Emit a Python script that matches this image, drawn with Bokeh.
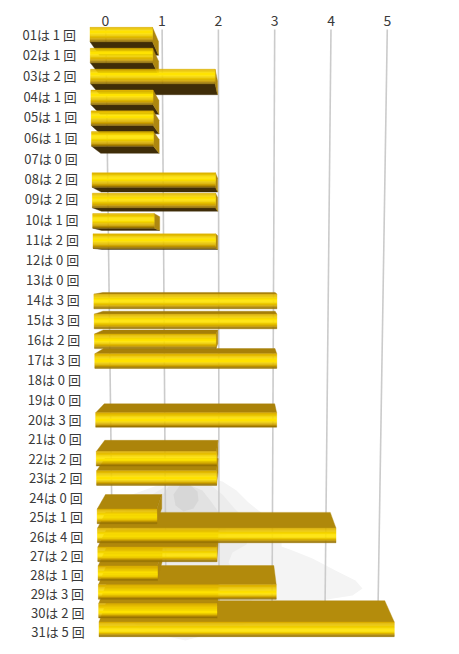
from bokeh.plotting import figure
from bokeh.models import ColumnDataSource, Range1d, FixedTicker, LinearAxis
from bokeh.core.properties import value
from bokeh.embed import file_html
from bokeh.resources import INLINE

# ---------- data ----------
days = ["01","02","03","04","05","06","07","08","09","10","11","12","13","14","15","16",
        "17","18","19","20","21","22","23","24","25","26","27","28","29","30","31"]
counts = [1,1,2,1,1,1,0,2,2,1,2,0,0,3,3,2,3,0,0,3,0,2,2,0,1,4,2,1,3,2,5]
ticks = [0,1,2,3,4,5]
FONT = "Noto Sans CJK JP"

# ---------- page geometry ----------
FRAME_LEFT, FRAME_TOP, FRAME_H, FRAME_W = 0, 26, 622, 455
PX_ZERO, PX_UNIT = 105.0, 56.4       # top axis scale, page pixels

def xval(px):                        # page pixel -> axis value
    return (px - PX_ZERO) / PX_UNIT

def row_y(r):                        # centre of a bar's front face
    n = r - 1
    return 34 + 21.08 * n - 0.0417 * n * n

def label_y(r):
    n = r - 1
    return 33.5 + 20.86 * n - 0.031 * n * n

def label_right(r):
    return 75.5 + 0.29 * (r - 1)

def front_x(v, r):
    return xval(89.5 + 0.3 * (r - 1) + (62.5 - 0.115 * (r - 1)) * v)

def back_x(v, r):
    return xval(99 + 0.25 * (r - 1) + (59 - 0.115 * (r - 1)) * v)

def back_y(y):
    return 265 + (y - 265) * 0.94

def grid_x(v, y):
    return xval(105.3 + (y - 28) * 0.0125 + (56.3 - (y - 28) * 0.0057) * v)

HALF = 7.3
STRIPS = 12
UNDER = "#3f2d08"
SIDE = "#ad8710"

def mix(a, b, t):
    a = [int(a[i:i+2], 16) for i in (1, 3, 5)]
    b = [int(b[i:i+2], 16) for i in (1, 3, 5)]
    return "#%02x%02x%02x" % tuple(round(p + (q - p) * t) for p, q in zip(a, b))

def front_colour(t, r):
    h = 0.35 + 0.25 * (r - 1) / 30
    lo, hi = h - 0.08, h + 0.08
    if t < lo:
        return mix("#d9ab00", "#ffe400", t / lo)
    if t < hi:
        return "#ffe400"
    if t < 0.84:
        return mix("#ffe400", "#cfa200", (t - hi) / (0.84 - hi))
    return mix("#cfa200", "#846405", (t - 0.84) / 0.16)

xs, ys, cs = [], [], []
def add(px, py, c):
    xs.append(px); ys.append(py); cs.append(c)

def draw_bar(r, v):
    y = row_y(r)
    yt, yb = y - HALF, y + HALF
    fl, fr = front_x(0, r), front_x(v, r)
    bl, br = back_x(0, r), back_x(v, r)
    if y < 265:
        add([fl, fr, br, bl], [yb, yb, back_y(yb), back_y(yb)], UNDER)
    else:
        t = (r - 14) / 17
        add([fl, fr, br, bl], [yt, yt, back_y(yt), back_y(yt)], mix("#a47d08", "#b48c0c", t))
    if br > fr:
        add([fr, br, br, fr], [yt, back_y(yt), back_y(yb), yb], SIDE)
    for i in range(STRIPS):
        a, b = yt + 2 * HALF * i / STRIPS, yt + 2 * HALF * (i + 1) / STRIPS
        add([fl, fr, fr, fl], [a, a, b, b], front_colour((i + 0.5) / STRIPS, r))

order = list(range(1, 14)) + list(range(31, 13, -1))
for r in order:
    if counts[r - 1] > 0:
        draw_bar(r, counts[r - 1])

p = figure(frame_width=FRAME_W, frame_height=FRAME_H, output_backend="svg", toolbar_location=None,
           x_range=Range1d(xval(FRAME_LEFT), xval(FRAME_LEFT + FRAME_W)),
           y_range=Range1d(FRAME_TOP + FRAME_H, FRAME_TOP),
           x_axis_location=None, y_axis_location=None,
           min_border=0, min_border_top=FRAME_TOP, outline_line_color=None, background_fill_color="white")
p.grid.visible = False

axis = LinearAxis(ticker=FixedTicker(ticks=ticks), axis_line_color=None,
                  major_tick_line_color=None, minor_tick_line_color=None,
                  major_tick_out=0, major_tick_in=0, major_label_standoff=1,
                  major_label_text_font=FONT, major_label_text_font_size="14px",
                  major_label_text_color="#3a3a3a")
p.add_layout(axis, "above")

# watermark behind the grid
wm = [
    ("#f4f4f4", [(165,482),(180,478),(205,477),(222,481),(236,490),(248,502),(258,510),(272,520),
                 (281,532),(281,546),(292,550),(312,558),(335,570),(355,580),(362,588),(352,595),
                 (320,600),(240,625),(185,640),(140,630),(115,600),(115,500)]),
    ("#ececec", [(165,486),(190,481),(208,483),(222,494),(234,508),(246,520),(250,530),(246,544),
                 (232,552),(228,562),(236,576),(268,590),(240,606),(185,618),(130,600),(125,510)]),
    ("#e2e2e2", [(168,486),(188,484),(202,490),(212,503),(224,520),(226,535),(212,548),(180,560),
                 (150,545),(148,515)]),
    ("#d7d7d7", [(180,484),(190,485),(197,491),(198,500),(193,508),(183,511),(175,505),(173,494)]),
]
p.patches([[xval(a) for a, _ in pts] for _, pts in wm], [[b for _, b in pts] for _, pts in wm],
          fill_color=[c for c, _ in wm], line_color=None)

# grid
GT, GB = 29, 601
p.segment(x0=[grid_x(v, GT) for v in ticks], y0=[GT] * len(ticks),
          x1=[grid_x(v, GB) for v in ticks], y1=[GB] * len(ticks),
          line_color="#cbcbcb", line_width=1.6)

# bars
p.patches("xs", "ys", source=ColumnDataSource(dict(xs=xs, ys=ys, c=cs)),
          fill_color="c", line_color="c", line_width=0.4)

# row labels
labels = [f"{d}は {c} 回" for d, c in zip(days, counts)]
rows = list(range(1, 32))
p.text(x=[xval(label_right(r)) for r in rows], y=[label_y(r) for r in rows], text=labels,
       text_font=value(FONT), text_font_size="13px", text_color="#3a3a3a",
       text_align="right", text_baseline="middle")

open("out.html", "w").write(file_html(p, INLINE))
